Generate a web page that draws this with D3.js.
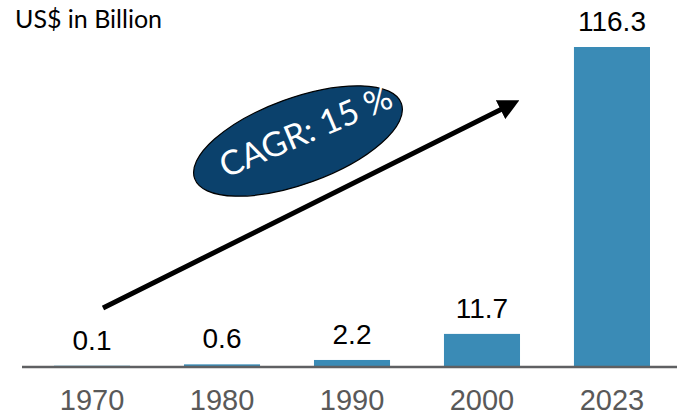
<!DOCTYPE html>
<html>
<head>
<meta charset="utf-8">
<script src="https://cdn.jsdelivr.net/npm/d3@7"></script>
<style>
body { margin: 0; background: #fff; }
svg { display: block; }
</style>
</head>
<body>
<svg width="677" height="417"></svg>
<script>
var years = ["1970", "1980", "1990", "2000", "2023"];
var values = [0.1, 0.6, 2.2, 11.7, 116.3];
var valueLabels = ["0.1", "0.6", "2.2", "11.7", "116.3"];
var unitLabel = "US$ in Billion";
var cagrLabel = "CAGR: 15 %";

var svg = d3.select("svg"),
	width = +svg.attr("width"),
	height = +svg.attr("height");

var baseY = 366;

var x = d3.scaleBand()
	.domain(years)
	.range([27, 677])
	.paddingInner(0.415)
	.paddingOuter(0.2077);

var y = d3.scaleLinear()
	.domain([0, 116.3])
	.range([baseY, 47]);

// bars
svg.append("g")
	.selectAll("rect")
	.data(values)
	.enter().append("rect")
	.attr("x", function(d, i) { return x(years[i]); })
	.attr("y", function(d) { return y(d); })
	.attr("width", x.bandwidth())
	.attr("height", function(d) { return baseY - y(d); })
	.attr("fill", "#3a8bb6");

// value labels
svg.append("g")
	.selectAll("text")
	.data(values)
	.enter().append("text")
	.attr("x", function(d, i) { return x(years[i]) + x.bandwidth() / 2; })
	.attr("y", function(d) { return y(d) - 16; })
	.attr("text-anchor", "middle")
	.style("font", "28px 'Liberation Sans', Arial, sans-serif")
	.attr("fill", "#000")
	.text(function(d, i) { return valueLabels[i]; });

// x axis
var xAxis = svg.append("g")
	.attr("transform", "translate(0," + (baseY + 1) + ")")
	.call(d3.axisBottom(x).tickSize(0).tickPadding(22));
xAxis.select(".domain")
	.attr("d", "M22,0H677")
	.attr("stroke", "#5f6062")
	.attr("stroke-width", 2.5);
xAxis.selectAll("text")
	.style("font", "29px 'Liberation Sans', Arial, sans-serif")
	.attr("fill", "#595959");

// unit label
svg.append("text")
	.attr("x", 15)
	.attr("y", 28)
	.style("font", "25px Lato, sans-serif")
	.attr("fill", "#000")
	.text(unitLabel);

// growth arrow
svg.append("defs").append("marker")
	.attr("id", "head")
	.attr("viewBox", "0 0 10 10")
	.attr("refX", 5)
	.attr("refY", 5)
	.attr("markerWidth", 4.2)
	.attr("markerHeight", 4.2)
	.attr("orient", "auto")
	.append("path")
	.attr("d", "M0,0L10,5L0,10Z")
	.attr("fill", "#000");

svg.append("line")
	.attr("x1", 103).attr("y1", 308)
	.attr("x2", 510).attr("y2", 105)
	.attr("stroke", "#000")
	.attr("stroke-width", 5)
	.attr("marker-end", "url(#head)");

// CAGR bubble
var bubble = svg.append("g")
	.attr("transform", "translate(298,141) rotate(-20)");
bubble.append("ellipse")
	.attr("rx", 110)
	.attr("ry", 43)
	.attr("fill", "#0b416c")
	.attr("stroke", "#000")
	.attr("stroke-width", 1.2);
bubble.append("text")
	.attr("transform", "rotate(-3)")
	.attr("x", 11)
	.attr("y", 6)
	.attr("text-anchor", "middle")
	.style("font", "34px Lato, sans-serif")
	.attr("fill", "#fff")
	.text(cagrLabel);
</script>
</body>
</html>
